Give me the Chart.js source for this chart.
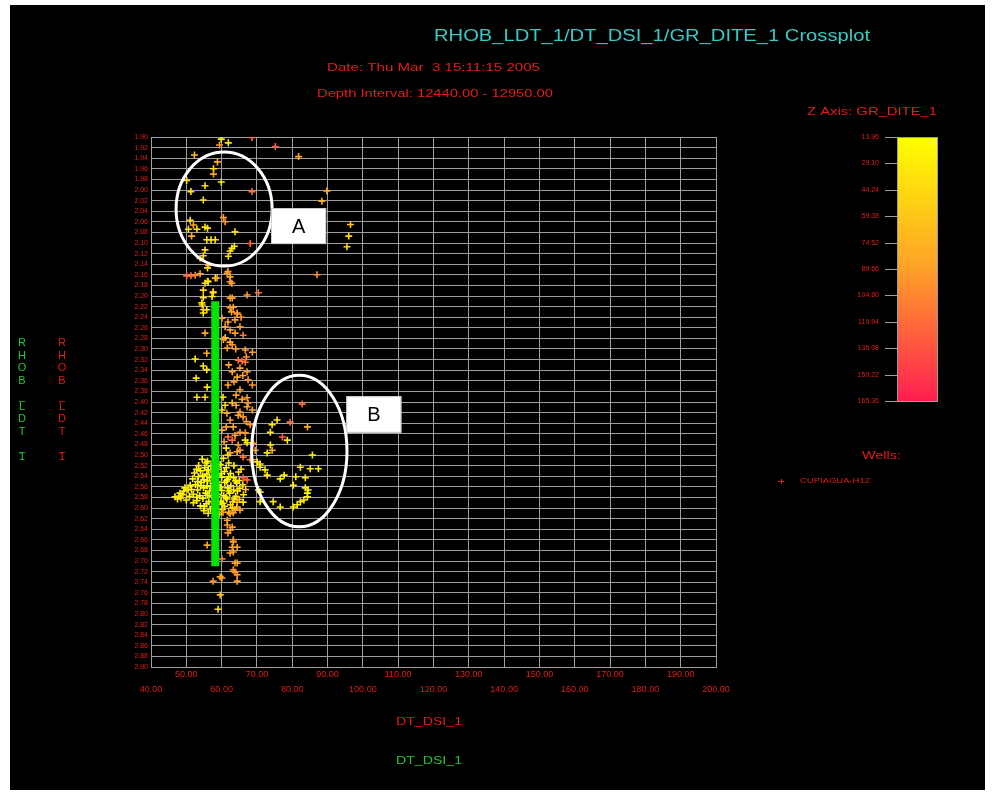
<!DOCTYPE html>
<html><head><meta charset="utf-8">
<script src="https://cdn.jsdelivr.net/npm/chart.js@4.4.1/dist/chart.umd.min.js"></script>
<style>html,body{margin:0;padding:0;background:#fff;}canvas{display:block;}</style>
</head><body>
<canvas id="c" width="995" height="798"></canvas>
<script>
// ---------- texts ----------
const chartTitle = 'RHOB_LDT_1/DT_DSI_1/GR_DITE_1 Crossplot';
const dateText = 'Date: Thu Mar  3 15:11:15 2005';
const depthText = 'Depth Interval: 12440.00 - 12950.00';
const zAxisTitle = 'Z Axis: GR_DITE_1';
const xAxisTitle = 'DT_DSI_1';
const yAxisTitle = 'RHOB_LDT_1';
const wellsTitle = 'Wells:';
const wellName = 'CUPIAGUA-H12';

// ---------- ticks ----------
const xTickValues = [40,50,60,70,80,90,100,110,120,130,140,150,160,170,180,190,200];
const yTickValues = [1.90,1.92,1.94,1.96,1.98,2.00,2.02,2.04,2.06,2.08,2.10,2.12,2.14,2.16,2.18,2.20,2.22,2.24,2.26,2.28,2.30,2.32,2.34,2.36,2.38,2.40,2.42,2.44,2.46,2.48,2.50,2.52,2.54,2.56,2.58,2.60,2.62,2.64,2.66,2.68,2.70,2.72,2.74,2.76,2.78,2.80,2.82,2.84,2.86,2.88,2.90];
const zTickLabels = ['13.96','29.10','44.24','59.38','74.52','89.66','104.80','119.94','135.08','150.22','165.36'];
const zMin = 13.96, zMax = 165.36;

// ---------- green trend line [DT, RHOB] ----------
const trendLine = [[58.2, 2.21], [58.2, 2.71]];

// ---------- points [DT, RHOB, GR] ----------
const upperPoints = [
 [59.9,1.904,25],[61.9,1.911,30],[59.4,1.915,95],[68.6,1.901,120],[75.2,1.918,130],[52.3,1.934,70],
 [81.8,1.937,85],[58.8,1.947,80],[57.7,1.960,40],[57.7,1.970,90],[50.1,1.982,35],[59.9,1.985,30],
 [55.3,1.992,40],[51.3,2.003,40],[68.6,2.003,120],[89.8,2.002,80],[54.8,2.019,45],[88.4,2.021,75],
 [60.5,2.052,90],[51.1,2.057,40],[52.0,2.066,85],[61.0,2.060,95],[50.6,2.074,35],[53.0,2.074,40],
 [55.3,2.070,45],[56.0,2.072,35],[63.8,2.079,40],[51.5,2.087,80],[96.5,2.065,60],[96.0,2.087,45],
 [95.5,2.107,50],[55.8,2.094,35],[57.0,2.094,30],[58.2,2.094,35],[68.1,2.101,120],[55.3,2.113,40],
 [62.9,2.110,25],[63.6,2.106,30],[62.4,2.115,35],[61.9,2.125,40],[54.8,2.124,45],[53.9,2.129,75],
 [56.3,2.142,80],[56.0,2.147,40],[50.1,2.162,125],[51.3,2.162,115],[52.5,2.161,110],[53.9,2.158,80],
 [55.3,2.176,40],[56.0,2.172,45],[58.2,2.166,40],[62.4,2.164,85],[61.6,2.157,95],[62.9,2.176,90],
 [87.0,2.160,100],[61.8,2.154,90],[58.7,2.166,85],[56.2,2.173,35],[62.4,2.173,90],[57.6,2.192,85],
 [54.8,2.203,35],[57.3,2.201,30],[63.0,2.204,90],[54.5,2.217,35],[54.8,2.226,80],[62.4,2.222,90],
 [64.4,2.234,85],[67.2,2.198,95],[70.4,2.194,115],[54.8,2.189,40],[54.4,2.213,35],[55.8,2.226,40],
 [54.8,2.232,35],[57.6,2.194,30]
];
const midTrendPoints = [
 [62.4,2.204,90],[63.3,2.221,85],[64.4,2.232,90],[61.0,2.258,85],[62.4,2.264,90],[65.2,2.258,95],
 [63.8,2.270,90],[66.1,2.274,115],[61.0,2.279,60],[62.4,2.287,85],[61.6,2.298,90],[68.7,2.306,95],
 [52.5,2.319,30],[64.7,2.321,115],[65.8,2.323,120],[66.7,2.325,115],[54.8,2.332,35],[63.0,2.343,85],
 [67.2,2.343,90],[67.5,2.358,95],[52.8,2.355,35],[64.4,2.353,85],[55.9,2.372,35],[65.2,2.377,90],
 [67.2,2.392,90],[67.5,2.402,95],[67.2,2.409,90],[53.0,2.391,35],[55.3,2.391,40],[60.4,2.391,35],
 [63.0,2.402,60],[65.2,2.419,90],[66.1,2.428,95],[64.7,2.425,85],[62.4,2.434,90],[63.3,2.447,85],
 [61.3,2.447,90],[65.2,2.457,90],[66.7,2.458,95],[61.8,2.466,115],[63.0,2.472,120],[66.7,2.472,35],
 [67.2,2.477,30],[65.2,2.491,90],[64.4,2.494,85],[62.4,2.496,90],[66.1,2.504,115],[68.1,2.509,120],
 [68.7,2.509,90],[70.1,2.513,35],[70.9,2.523,30],[60.1,2.242,90],[61.8,2.249,85],[63.8,2.245,90],
 [63.0,2.292,90],[66.7,2.302,95],[65.2,2.336,90],[61.8,2.368,85],[68.7,2.368,95],[64.1,2.387,90],
 [68.7,2.415,90],[60.1,2.415,40],[64.1,2.406,85],[68.1,2.443,95],[60.1,2.453,85],[64.7,2.481,90],
 [69.5,2.491,95],[61.3,2.487,35],[55.8,2.308,80],[55.3,2.270,85],[55.8,2.339,35],[61.0,2.406,40],
 [64.0,2.300,90],[67.0,2.315,95],[62.0,2.330,85],[66.0,2.350,90],[63.5,2.362,95],[65.8,2.395,90],
 [61.5,2.421,85],[67.0,2.437,95],[63.8,2.463,90],[69.0,2.478,95],[60.7,2.475,90],[62.8,2.230,90],
 [65.5,2.240,95],[60.5,2.282,90]
];
const densePoints = [
 [46.8,2.579,30],[48.2,2.572,25],[49.6,2.562,25],[50.5,2.566,30],[51.1,2.557,20],[49.0,2.575,35],[50.0,2.585,30],[47.5,2.583,28],
 [54.5,2.508,25],[56.0,2.512,20],[60.5,2.506,30],[62.0,2.515,25],
 [53.5,2.520,30],[55.2,2.524,20],[57.0,2.521,18],[59.6,2.518,22],[61.3,2.524,20],[63.5,2.520,30],
 [52.3,2.534,25],[54.0,2.530,18],[55.8,2.536,18],[57.5,2.532,16],[59.0,2.538,18],[60.8,2.531,20],[62.5,2.535,22],[64.8,2.532,35],
 [51.8,2.545,22],[53.4,2.541,18],[55.0,2.547,16],[56.6,2.543,15],[58.3,2.548,16],[60.0,2.542,18],[61.7,2.546,20],[63.4,2.543,25],[65.0,2.548,30],
 [52.6,2.556,20],[54.2,2.552,16],[55.9,2.558,15],[57.5,2.553,15],[59.2,2.557,16],[60.9,2.552,18],[62.6,2.558,22],[64.3,2.553,26],[66.0,2.556,40],
 [53.2,2.566,18],[54.9,2.562,15],[56.6,2.568,15],[58.3,2.563,16],[60.0,2.567,18],[61.7,2.562,20],[63.4,2.566,28],[65.1,2.563,35],
 [52.0,2.574,22],[53.8,2.577,18],[55.5,2.572,15],[57.2,2.578,15],[58.9,2.574,16],[60.6,2.577,18],[62.3,2.572,20],[64.0,2.578,30],[66.2,2.575,45],
 [53.0,2.586,25],[54.7,2.582,18],[56.4,2.588,16],[58.1,2.584,16],[59.8,2.588,18],[61.5,2.583,22],[63.2,2.588,35],[65.0,2.584,60],
 [54.0,2.596,25],[55.7,2.592,20],[57.4,2.598,18],[59.1,2.593,20],[60.8,2.597,30],[62.5,2.594,50],[64.3,2.598,70],
 [55.0,2.605,30],[56.8,2.602,25],[58.5,2.607,25],[60.2,2.603,40],[62.0,2.608,65],[63.8,2.604,80],
 [66.1,2.543,130],[67.2,2.547,125],[64.4,2.589,85],[65.2,2.604,90],[66.1,2.589,30],
 [55.6,2.515,20],[58.2,2.512,18],[59.0,2.527,16],[56.2,2.528,16],[54.6,2.539,18],[57.3,2.540,15],
 [59.9,2.535,16],[62.0,2.541,20],[53.2,2.550,18],[56.0,2.549,15],[58.8,2.551,15],[61.4,2.549,17],
 [63.9,2.549,24],[51.5,2.565,20],[54.0,2.558,16],[57.0,2.560,15],[59.6,2.561,16],[62.0,2.568,20],
 [64.5,2.568,30],[50.9,2.578,25],[53.0,2.580,17],[56.0,2.576,15],[58.6,2.579,15],[61.2,2.580,19],
 [63.6,2.583,28],[52.0,2.590,25],[55.1,2.597,20],[57.9,2.592,17],[60.4,2.591,24],[63.0,2.600,45],
 [56.2,2.610,35],[59.3,2.612,40],[48.5,2.581,30],[49.3,2.568,28],[52.9,2.527,28],[57.8,2.503,25],
 [61.8,2.500,35],[65.5,2.527,40],[66.8,2.565,60],[47.9,2.578,30]
];
const lowerPoints = [
 [63.3,2.609,90],[61.6,2.623,85],[63.0,2.636,90],[61.8,2.647,95],[63.3,2.660,90],[63.0,2.674,85],
 [62.4,2.685,90],[63.8,2.704,95],[63.3,2.717,90],[59.6,2.730,85],[60.4,2.608,90],[62.4,2.611,85],
 [61.6,2.632,90],[62.4,2.642,95],[63.3,2.664,90],[64.4,2.674,85],[63.3,2.683,90],[60.1,2.696,115],
 [64.4,2.704,90],[63.8,2.721,95],[64.4,2.726,90],[60.1,2.732,90],[57.6,2.738,100],[64.4,2.738,90],
 [59.6,2.764,65],[59.0,2.791,40],[55.9,2.670,85]
];
const zoneBPoints = [
 [82.8,2.404,120],[75.7,2.434,30],[79.4,2.438,115],[74.3,2.443,30],[84.3,2.447,80],[73.8,2.457,30],
 [77.2,2.466,130],[78.6,2.472,35],[73.8,2.481,30],[74.3,2.491,75],[85.7,2.500,30],[72.9,2.496,35],
 [70.9,2.517,30],[72.3,2.528,25],[72.9,2.538,30],[82.3,2.523,35],[85.1,2.526,30],[87.4,2.526,25],
 [77.7,2.538,30],[76.6,2.545,25],[80.3,2.557,30],[83.7,2.543,35],[81.0,2.541,30],[83.7,2.562,30],
 [84.5,2.566,25],[84.3,2.572,25],[84.3,2.579,30],[83.3,2.585,28],[82.3,2.588,30],[81.4,2.594,25],
 [80.3,2.598,30],[74.6,2.588,35],[76.6,2.598,30],[70.9,2.588,30],[70.4,2.566,25],[70.9,2.570,30]
];

// ---------- annotations (data units) ----------
const annotationEllipses = [
  {cx: 60.7, cy: 2.036, rx: 13.6, ry: 0.1075},
  {cx: 82.0, cy: 2.4925, rx: 13.5, ry: 0.143}
];
const annotationBoxes = [
  {label: 'A', x0: 74.0, x1: 89.6, y0: 2.034, y1: 2.102},
  {label: 'B', x0: 95.3, x1: 110.9, y0: 2.389, y1: 2.458}
];

// ---------- styles ----------
const RED = '#e41c1c';
const GREEN = '#22c83a';
const GRID = '#9e9e9e';
const zStops = [[0, [255,255,0]], [0.5, [255,160,40]], [1, [255,30,80]]];

function zColor(z) {
  let t = (z - zMin) / (zMax - zMin);
  t = Math.max(0, Math.min(1, t));
  for (let i = 0; i < zStops.length - 1; i++) {
    const [t0, c0] = zStops[i], [t1, c1] = zStops[i + 1];
    if (t <= t1) {
      const f = (t - t0) / (t1 - t0);
      const c = c0.map((v, k) => Math.round(v + (c1[k] - v) * f));
      return `rgb(${c[0]},${c[1]},${c[2]})`;
    }
  }
  return 'rgb(255,30,80)';
}

function drawText(ctx, s, x, y, size, color, align, targetW, weight) {
  ctx.save();
  ctx.font = (weight || 'normal') + ' ' + size + 'px "Liberation Sans", Arial, sans-serif';
  ctx.fillStyle = color;
  ctx.textBaseline = 'middle';
  ctx.textAlign = 'left';
  const w = ctx.measureText(s).width;
  const sx = targetW ? targetW / w : 1;
  let x0 = x;
  if (align === 'center') x0 = x - (w * sx) / 2;
  else if (align === 'right') x0 = x - w * sx;
  ctx.translate(x0, y);
  ctx.scale(sx, 1);
  ctx.fillText(s, 0, 0);
  ctx.restore();
}

const allPoints = [].concat(upperPoints, midTrendPoints, densePoints, lowerPoints, zoneBPoints)
  .map(p => ({x: p[0], y: p[1], z: p[2]}));

const decorPlugin = {
  id: 'decor',
  beforeDraw(chart) {
    const ctx = chart.ctx;
    ctx.save();
    ctx.fillStyle = '#ffffff';
    ctx.fillRect(0, 0, chart.width, chart.height);
    ctx.fillStyle = '#000000';
    ctx.fillRect(10, 5, 975, 785);
    ctx.restore();
  },
  afterDatasetsDraw(chart) {
    const ctx = chart.ctx;
    const xs = chart.scales.x, ys = chart.scales.y;
    ctx.save();
    ctx.strokeStyle = '#ffffff';
    ctx.lineWidth = 3;
    annotationEllipses.forEach(e => {
      const cx = xs.getPixelForValue(e.cx), cy = ys.getPixelForValue(e.cy);
      const rx = Math.abs(xs.getPixelForValue(e.cx + e.rx) - cx);
      const ry = Math.abs(ys.getPixelForValue(e.cy + e.ry) - cy);
      ctx.beginPath();
      ctx.ellipse(cx, cy, rx, ry, 0, 0, Math.PI * 2);
      ctx.stroke();
    });
    annotationBoxes.forEach(b => {
      const x0 = xs.getPixelForValue(b.x0), x1 = xs.getPixelForValue(b.x1);
      const y0 = ys.getPixelForValue(b.y0), y1 = ys.getPixelForValue(b.y1);
      ctx.fillStyle = '#ffffff';
      ctx.fillRect(x0, y0, x1 - x0, y1 - y0);
      ctx.strokeStyle = '#cccccc';
      ctx.lineWidth = 1;
      ctx.strokeRect(x0 + 0.5, y0 + 0.5, x1 - x0 - 1, y1 - y0 - 1);
      drawText(ctx, b.label, (x0 + x1) / 2, (y0 + y1) / 2 + 1, 20, '#000000', 'center');
    });
    ctx.restore();
  },
  afterDraw(chart) {
    const ctx = chart.ctx;
    drawText(ctx, chartTitle, 434, 37, 16, '#3cc8c4', 'left', 436);
    drawText(ctx, dateText, 327, 68, 11, RED, 'left', 213);
    drawText(ctx, depthText, 317, 94, 11, RED, 'left', 236);
    drawText(ctx, zAxisTitle, 807, 112, 11, RED, 'left', 130);
    drawText(ctx, xAxisTitle, 396, 722, 11, RED, 'left', 66);
    drawText(ctx, xAxisTitle, 396, 761, 11, GREEN, 'left', 66);
    const chars = yAxisTitle.split('');
    chars.forEach((ch, i) => {
      const dy = ch === '_' ? 3 : 0;
      drawText(ctx, ch, 22, 343 + i * 12.7 + dy, 11, GREEN, 'center');
      drawText(ctx, ch, 62, 343 + i * 12.7 + dy, 11, RED, 'center');
    });
    const bx = 897, by = 137, bw = 40, bh = 264;
    const g = ctx.createLinearGradient(0, by, 0, by + bh);
    zStops.forEach(([t, c]) => g.addColorStop(t, `rgb(${c[0]},${c[1]},${c[2]})`));
    ctx.save();
    ctx.fillStyle = g;
    ctx.fillRect(bx, by, bw, bh);
    ctx.strokeStyle = GRID;
    ctx.lineWidth = 1;
    ctx.strokeRect(bx + 0.5, by + 0.5, bw, bh);
    zTickLabels.forEach((lab, i) => {
      const y = by + i * bh / (zTickLabels.length - 1);
      ctx.beginPath();
      ctx.moveTo(885, Math.round(y) + 0.5);
      ctx.lineTo(897, Math.round(y) + 0.5);
      ctx.stroke();
      drawText(ctx, lab, 879, y, 7, RED, 'right');
    });
    ctx.restore();
    drawText(ctx, wellsTitle, 862, 456, 11, RED, 'left', 39);
    ctx.save();
    ctx.strokeStyle = RED;
    ctx.lineWidth = 1;
    ctx.beginPath();
    ctx.moveTo(778, 481.5); ctx.lineTo(784, 481.5);
    ctx.moveTo(781.5, 479); ctx.lineTo(781.5, 484);
    ctx.stroke();
    ctx.restore();
    drawText(ctx, wellName, 800, 481, 7, RED, 'left', 70);
  }
};

new Chart(document.getElementById('c'), {
  type: 'scatter',
  data: {
    datasets: [
      {
        type: 'line',
        label: 'Trend',
        data: trendLine.map(p => ({x: p[0], y: p[1]})),
        borderColor: '#00e400',
        borderWidth: 8,
        borderCapStyle: 'butt',
        pointRadius: 0,
        fill: false
      },
      {
        label: wellName,
        data: allPoints,
        pointStyle: 'cross',
        pointRadius: 3.5,
        borderWidth: 1.6,
        borderColor: c => (c.raw ? zColor(c.raw.z) : '#ffff00'),
        backgroundColor: c => (c.raw ? zColor(c.raw.z) : '#ffff00')
      }
    ]
  },
  options: {
    responsive: false,
    animation: false,
    devicePixelRatio: 1,
    layout: {padding: {left: 0, right: 279, top: 137, bottom: 0}},
    plugins: {legend: {display: false}, tooltip: {enabled: false}, title: {display: false}},
    scales: {
      x: {
        type: 'linear', position: 'bottom', min: 40, max: 200,
        afterBuildTicks: s => { s.ticks = xTickValues.map(v => ({value: v})); },
        afterFit: s => { s.height = 131; },
        grid: {color: GRID, lineWidth: 1, drawTicks: false},
        border: {color: GRID},
        ticks: {
          autoSkip: false, maxRotation: 0, minRotation: 0, padding: 0, color: RED,
          font: {size: 9, family: '"Liberation Sans", Arial', lineHeight: 1.7},
          callback: (v, i) => (i % 2 === 0 ? ['', Number(v).toFixed(2)] : [Number(v).toFixed(2)])
        }
      },
      y: {
        type: 'linear', reverse: true, min: 1.9, max: 2.9,
        afterBuildTicks: s => { s.ticks = yTickValues.map(v => ({value: v})); },
        afterFit: s => { s.width = 151; },
        grid: {color: GRID, lineWidth: 1, drawTicks: false},
        border: {color: GRID},
        ticks: {
          autoSkip: false, padding: 3, color: RED,
          font: {size: 7, family: '"Liberation Sans", Arial'},
          callback: v => Number(v).toFixed(2)
        }
      }
    }
  },
  plugins: [decorPlugin]
});
</script>
</body></html>
